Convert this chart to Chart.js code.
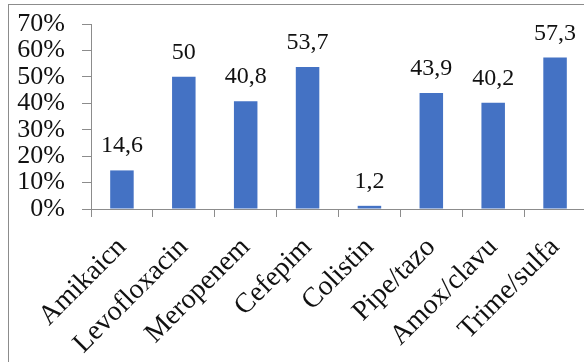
<!DOCTYPE html>
<html lang="vi">
<head>
  <meta charset="UTF-8">
  <title>Tỷ lệ kháng kháng sinh</title>
  <script src="https://cdn.jsdelivr.net/npm/chart.js"></script>
  <style>
    html, body { margin: 0; padding: 0; background: #fff; overflow: hidden; }
    body { width: 584px; height: 362px; position: relative; }
    #chart { position: absolute; left: 0; top: 0; }
    .frame { position: absolute; left: 8px; top: 4px; width: 700px; height: 500px;
             border-left: 1px solid #8c8c8c; border-top: 1px solid #8c8c8c; pointer-events: none; }
  </style>
</head>
<body>
  <canvas id="chart" width="620" height="362"></canvas>
  <div class="frame"></div>

  <script>
    const drugs = ['Amikaicn', 'Levofloxacin', 'Meropenem', 'Cefepim', 'Colistin', 'Pipe/tazo', 'Amox/clavu', 'Trime/sulfa'];
    const rates = [14.6, 50, 40.8, 53.7, 1.2, 43.9, 40.2, 57.3];
    const yTicks = [0, 10, 20, 30, 40, 50, 60, 70];

    const serif = '"Liberation Serif", "Times New Roman", serif';
    const axisGray = '#8c8c8c';

    // value labels above each bar, decimal comma
    const barLabels = {
      id: 'barLabels',
      afterDatasetsDraw(chart) {
        const ctx = chart.ctx;
        const meta = chart.getDatasetMeta(0);
        ctx.save();
        ctx.font = '24px ' + serif;
        ctx.fillStyle = '#111';
        ctx.textAlign = 'center';
        ctx.textBaseline = 'alphabetic';
        meta.data.forEach((bar, i) => {
          ctx.fillText(String(rates[i]).replace('.', ','), bar.x, bar.y - 18);
        });
        ctx.restore();
      }
    };

    new Chart(document.getElementById('chart'), {
      type: 'bar',
      data: {
        labels: drugs,
        datasets: [{ data: rates, backgroundColor: '#4472c4', barPercentage: 0.38, categoryPercentage: 1 }]
      },
      options: {
        responsive: false,
        animation: false,
        events: [],
        layout: { padding: { top: 24, right: 34, left: 0, bottom: 0 } },
        plugins: { legend: { display: false }, tooltip: { enabled: false } },
        scales: {
          x: {
            grid: { drawOnChartArea: false, drawTicks: true, tickLength: 8, color: axisGray },
            border: { display: true, color: axisGray },
            ticks: { color: '#111', font: { family: serif, size: 28 }, minRotation: 45, maxRotation: 45, padding: 14, autoSkip: false },
            afterFit(scale) { scale.height = 153; scale.paddingLeft = 0; scale.paddingRight = 0; }
          },
          y: {
            min: 0, max: 70,
            grid: { drawOnChartArea: false, drawTicks: true, tickLength: 9, color: axisGray },
            border: { display: true, color: axisGray },
            afterBuildTicks(scale) { scale.ticks = yTicks.map(v => ({ value: v })); },
            ticks: { color: '#111', font: { family: serif, size: 26 }, padding: 17, autoSkip: false, callback: v => v + '%' },
            afterFit(scale) { scale.width = 91; scale.paddingTop = 0; scale.paddingBottom = 0; }
          }
        }
      },
      plugins: [barLabels]
    });
  </script>
</body>
</html>
